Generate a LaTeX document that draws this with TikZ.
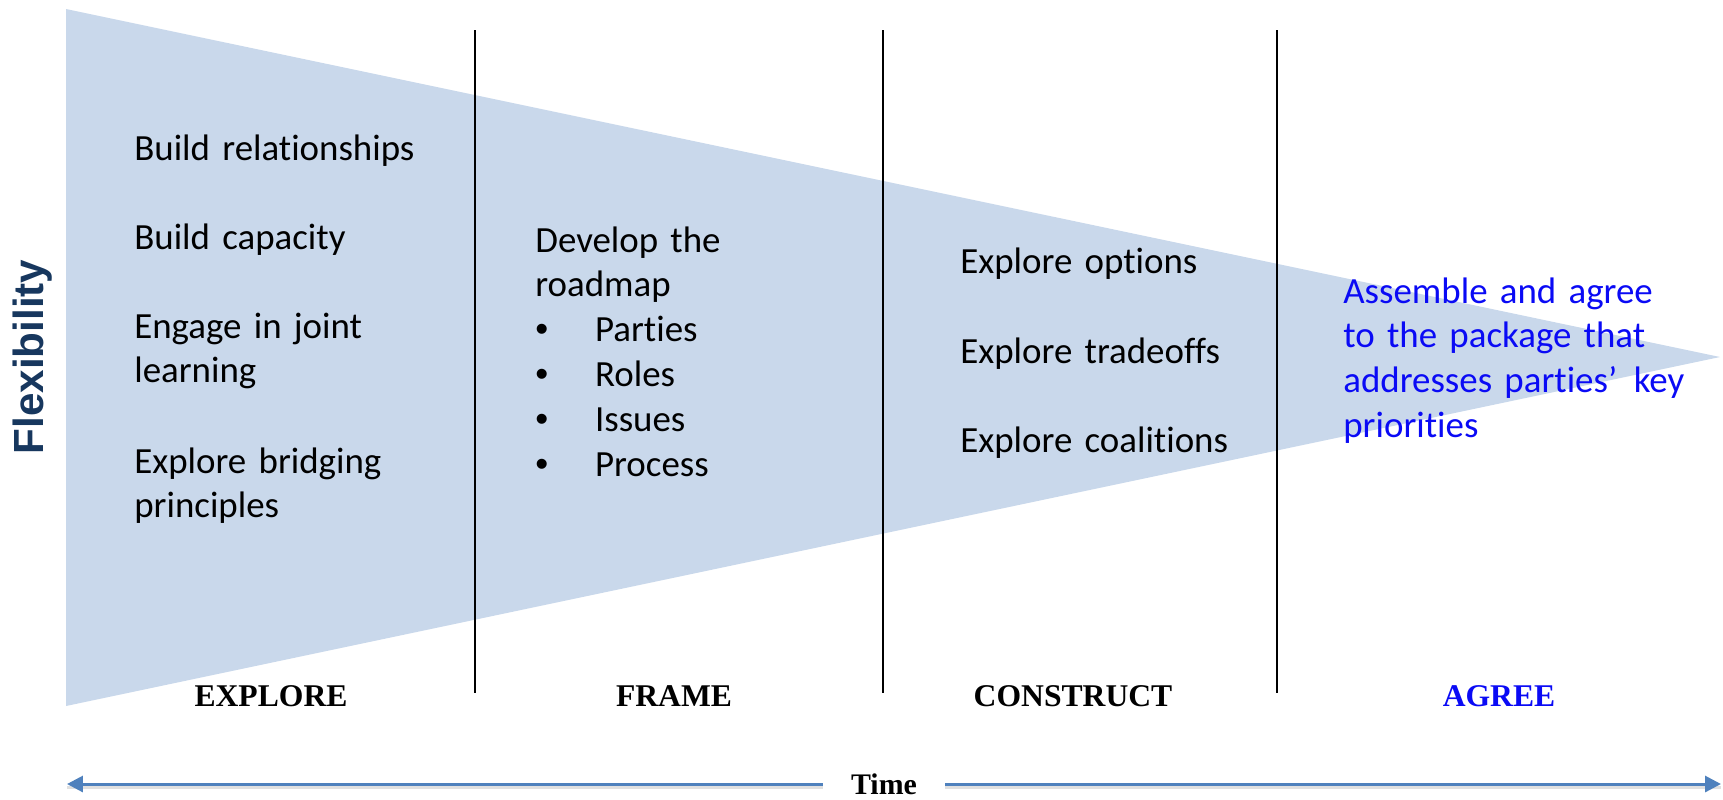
\documentclass[tikz,border=0pt]{standalone}
\usepackage{fontspec}
\setmainfont{Carlito}[Ligatures=NoCommon]
\newfontfamily\phasefont{Liberation Serif}
\newfontfamily\axisfont{Liberation Sans}
\usetikzlibrary{arrows.meta}

\definecolor{funnel}{RGB}{201,216,235}
\definecolor{flexnavy}{RGB}{23,55,94}
\definecolor{agreeblue}{RGB}{10,10,245}
\definecolor{timeblue}{RGB}{79,129,189}

\newcommand{\dotitem}{\makebox[34pt][l]{\axisfont\textbullet}}

\begin{document}
\begin{tikzpicture}[x=0.02cm,y=-0.02cm,
    item/.style={anchor=base west,inner sep=0pt,text width=8cm,align=left,
                 font=\fontsize{21}{25.6}\selectfont},
    phase/.style={anchor=base,inner sep=0pt,font=\phasefont\bfseries\fontsize{18}{20}\selectfont},
    divider/.style={line width=1.1pt},
    timeline/.style={timeblue,line width=0.06cm,-{Triangle[length=0.32cm,width=0.32cm]}}]
    \useasboundingbox (0,0) rectangle (1723,799);

    % Coordinates
    \coordinate (fa) at (66,9);
    \coordinate (fb) at (66,706);
    \coordinate (tip) at (1720,357);
    \coordinate (tl) at (67,784);
    \coordinate (tr) at (1721,784);

    % Draw the funnel
    \fill[funnel] (fa) -- (tip) -- (fb) -- cycle;

    % Draw the dividers
    \foreach \x in {475,883,1277}
        \draw[divider] (\x,30) -- (\x,693);

    % Axis label
    \node[rotate=90,inner sep=0pt,text=flexnavy,font=\axisfont\bfseries\fontsize{24}{28}\selectfont]
        (flex) at (33,357) {Flexibility};

    % Explore column
    \node[item] (build1) at (134,160) {Build relationships};
    \node[item] (build2) at (134,249) {Build capacity};
    \node[item] (engage) at (134,338) {Engage in joint\\learning};
    \node[item] (bridge) at (134,473) {Explore bridging\\principles};

    % Frame column
    \node[item] (roadmap) at (535,252) {Develop the\\roadmap\\
        \dotitem Parties\\
        \dotitem Roles\\
        \dotitem Issues\\
        \dotitem Process};

    % Construct column
    \node[item] (options) at (960,273) {Explore options};
    \node[item] (tradeoffs) at (960,363) {Explore tradeoffs};
    \node[item] (coalitions) at (960,452) {Explore coalitions};

    % Agree column
    \node[item,text=agreeblue] (package) at (1343,303)
        {Assemble and agree\\to the package that\\addresses parties’\hspace{0.45em}key\\priorities};

    % Phase names
    \node[phase] (explore) at (271,706) {EXPLORE};
    \node[phase] (frame) at (674,706) {FRAME};
    \node[phase] (construct) at (1073,706) {CONSTRUCT};
    \node[phase,text=agreeblue] (agree) at (1499,706) {AGREE};

    % Time axis
    \node[inner xsep=0.56cm,inner ysep=0pt,font=\phasefont\bfseries\fontsize{17}{20}\selectfont]
        (time) at (884,784) {Time};
    \draw[black!12,line width=0.06cm] ([yshift=-0.07cm]time.west) -- ([yshift=-0.07cm]tl);
    \draw[black!12,line width=0.06cm] ([yshift=-0.07cm]time.east) -- ([yshift=-0.07cm]tr);
    \draw[timeline] (time.west) -- (tl);
    \draw[timeline] (time.east) -- (tr);
\end{tikzpicture}
\end{document}
